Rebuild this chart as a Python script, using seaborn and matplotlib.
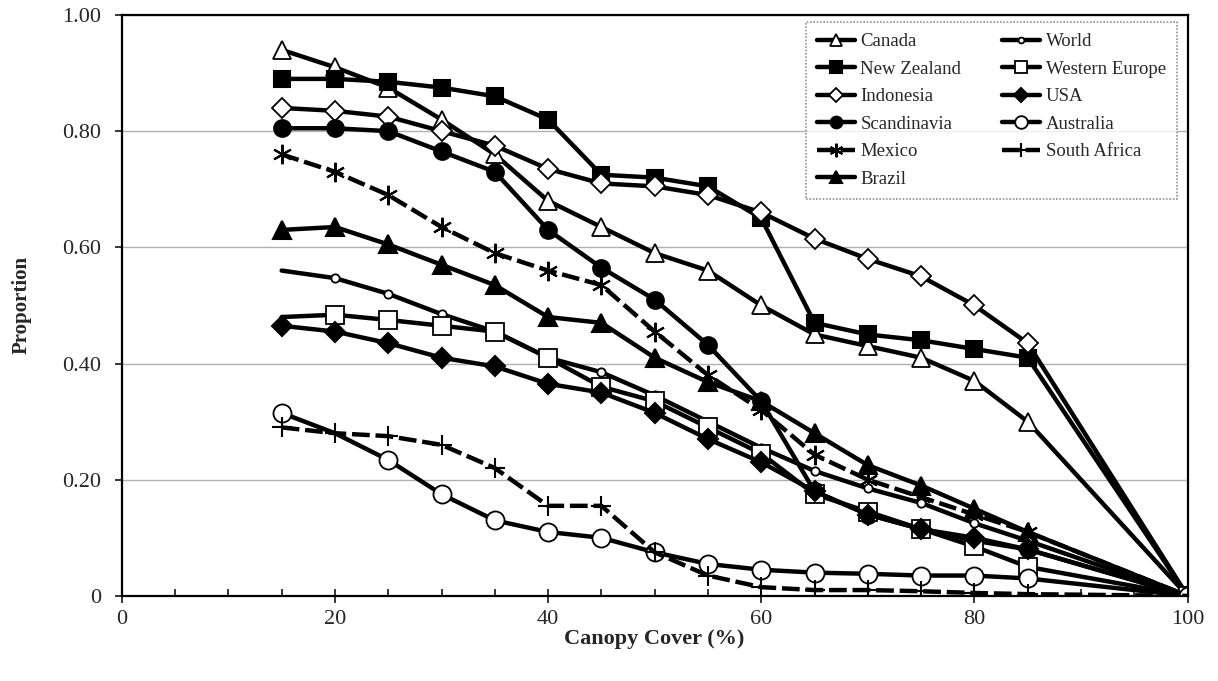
import numpy as np
import pandas as pd
import matplotlib
matplotlib.use("Agg")
import matplotlib.pyplot as plt
from matplotlib.ticker import FixedLocator
import seaborn as sns

# canopy cover classes (%)
canopy = [15, 20, 25, 30, 35, 40, 45, 50, 55, 60, 65, 70, 75, 80, 85, 100]

canada = [0.94, 0.91, 0.875, 0.82, 0.76, 0.68, 0.635, 0.59, 0.56, 0.50, 0.45, 0.43, 0.41, 0.37, 0.30, 0.0]
new_zealand = [0.89, 0.89, 0.885, 0.875, 0.86, 0.82, 0.725, 0.72, 0.705, 0.65, 0.47, 0.45, 0.44, 0.425, 0.41, 0.0]
indonesia = [0.84, 0.835, 0.825, 0.80, 0.775, 0.735, 0.71, 0.705, 0.69, 0.66, 0.615, 0.58, 0.55, 0.50, 0.435, 0.0]
scandinavia = [0.805, 0.805, 0.80, 0.765, 0.73, 0.63, 0.565, 0.51, 0.432, 0.335, 0.18, 0.14, 0.115, 0.095, 0.08, 0.0]
mexico = [0.76, 0.73, 0.69, 0.635, 0.59, 0.56, 0.535, 0.455, 0.38, 0.32, 0.243, 0.20, 0.17, 0.14, 0.11, 0.0]
brazil = [0.63, 0.635, 0.605, 0.57, 0.535, 0.48, 0.47, 0.41, 0.368, 0.335, 0.28, 0.225, 0.19, 0.15, 0.11, 0.0]
world = [0.56, 0.547, 0.52, 0.485, 0.455, 0.41, 0.385, 0.345, 0.30, 0.255, 0.215, 0.185, 0.16, 0.125, 0.095, 0.0]
western_europe = [0.48, 0.484, 0.475, 0.465, 0.455, 0.41, 0.36, 0.335, 0.29, 0.245, 0.175, 0.145, 0.115, 0.085, 0.05, 0.0]
usa = [0.465, 0.455, 0.435, 0.41, 0.395, 0.365, 0.35, 0.315, 0.27, 0.23, 0.18, 0.14, 0.115, 0.10, 0.08, 0.0]
australia = [0.315, 0.28, 0.234, 0.175, 0.13, 0.11, 0.10, 0.075, 0.055, 0.045, 0.04, 0.038, 0.035, 0.035, 0.03, 0.0]
south_africa = [0.29, 0.28, 0.275, 0.26, 0.22, 0.155, 0.155, 0.075, 0.035, 0.015, 0.01, 0.01, 0.008, 0.005, 0.003, 0.0]

asterisk = (6, 2, 0)

# name, values, marker, face colour, marker size, dashed
series = [
    ("Canada", canada, "^", "white", 13, False),
    ("New Zealand", new_zealand, "s", "black", 12, False),
    ("Indonesia", indonesia, "D", "white", 10, False),
    ("Scandinavia", scandinavia, "o", "black", 12, False),
    ("Mexico", mexico, asterisk, "black", 14, True),
    ("Brazil", brazil, "^", "black", 13, False),
    ("World", world, "o", "white", 6, False),
    ("Western Europe", western_europe, "s", "white", 13, False),
    ("USA", usa, "D", "black", 10, False),
    ("Australia", australia, "o", "white", 13, False),
    ("South Africa", south_africa, "+", "black", 14, True),
]

# a few points are hidden under other marks in the original
hidden = {"World": [0], "Western Europe": [0], "Australia": [1]}

sns.set_style("white")
plt.rcParams["font.family"] = ["Liberation Serif", "DejaVu Serif"]

fig, ax = plt.subplots(figsize=(12.18, 6.81), dpi=100)
fig.subplots_adjust(left=0.1, right=0.975, bottom=0.125, top=0.978)

for name, vals, mk, face, ms, dashed in series:
    df = pd.DataFrame({"canopy": canopy, "prop": vals})
    skip = [i for i in range(len(canopy)) if i not in hidden.get(name, [])]
    sns.lineplot(data=df, x="canopy", y="prop", ax=ax, color="black",
                 linewidth=3.2, linestyle=(0, (4, 1.3)) if dashed else "-",
                 marker=mk, markersize=ms, markerfacecolor=face,
                 markeredgecolor="black",
                 markeredgewidth=1.3 if face == "white" else 1.5,
                 markevery=skip, label=name, zorder=3)

ax.set_xlim(0, 100)
ax.set_ylim(0, 1.0)
ax.set_yticks([0, 0.2, 0.4, 0.6, 0.8, 1.0])
ax.set_yticklabels(["0", "0.20", "0.40", "0.60", "0.80", "1.00"])
ax.set_xticks([0, 20, 40, 60, 80, 100])
ax.xaxis.set_minor_locator(FixedLocator(np.arange(5, 100, 5)))
ax.grid(axis="y", color="#b0b0b0", linewidth=1.0)
ax.set_axisbelow(True)

for sp in ax.spines.values():
    sp.set_color("black")
    sp.set_linewidth(1.6)

ax.tick_params(axis="x", which="major", direction="inout", length=10, width=1.3,
               labelsize=16, pad=5, bottom=True)
ax.tick_params(axis="x", which="minor", direction="in", length=5, width=1.3, bottom=True)
ax.tick_params(axis="y", which="major", direction="out", length=5, width=1.3,
               labelsize=16, pad=10, left=True)

ax.set_xlabel("Canopy Cover (%)", fontsize=16, fontweight="bold", labelpad=0)
ax.set_ylabel("Proportion", fontsize=15, fontweight="bold", labelpad=22)

leg = ax.legend(loc="upper right", ncol=2, fontsize=13.5, frameon=True, fancybox=False,
                edgecolor="#777777", handlelength=2.0, handletextpad=0.3,
                columnspacing=2.2, labelspacing=0.55, borderpad=0.6,
                markerscale=0.7, borderaxespad=0, bbox_to_anchor=(0.99, 0.988))
leg.get_frame().set_linewidth(1.2)
leg.get_frame().set_linestyle((0, (1, 1)))

plt.savefig("out.png", dpi=100)
